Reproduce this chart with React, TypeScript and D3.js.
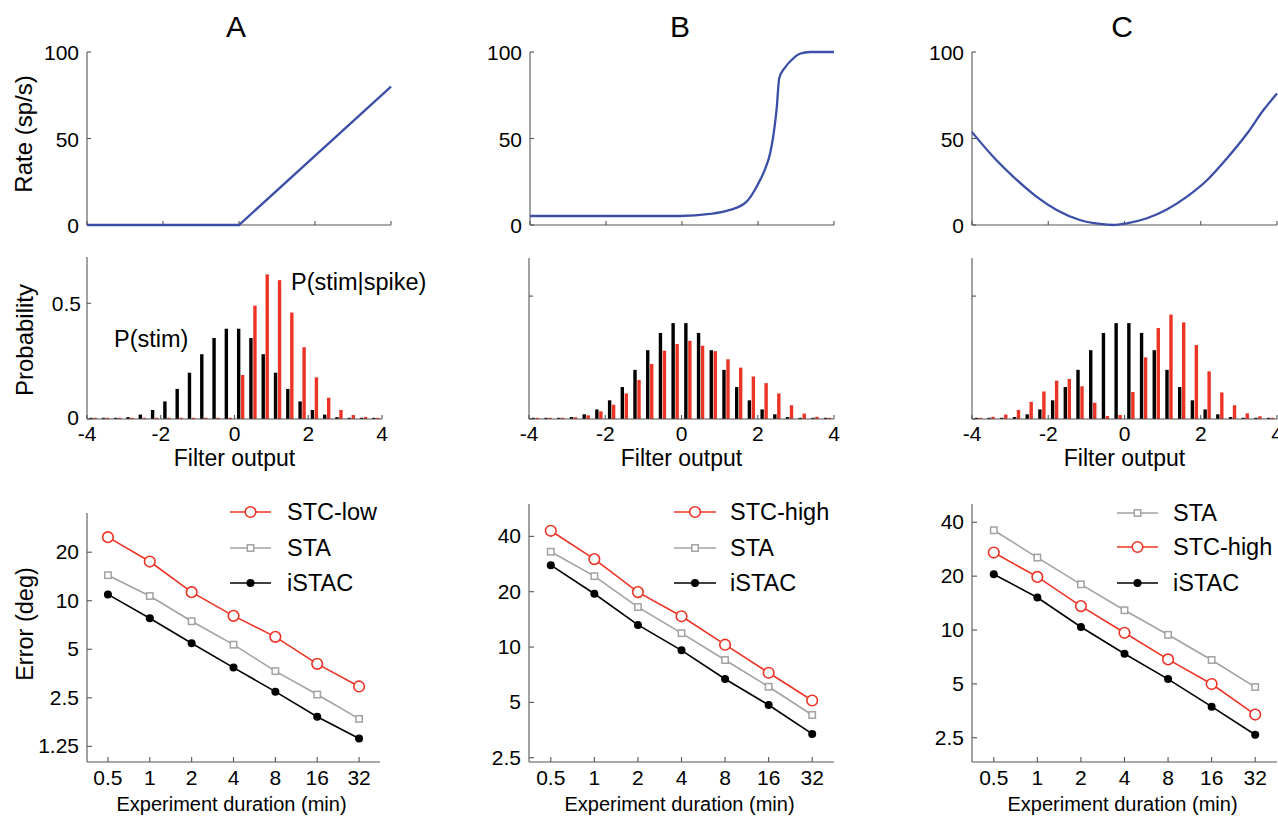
import React from "react";
import * as d3 from "d3";

// ---------- DATA ----------
const panelTitles = ["A", "B", "C"];
const rateTicks = [0, 50, 100];
const filterTicks = [-4, -2, 0, 2, 4];

const rateAX = [-4, 0, 4];
const rateAY = [0, 0, 80];
const rateBX = [-4, -0.05, 0.74, 1.26, 1.7, 1.96, 2.18, 2.32, 2.4, 2.49, 2.56, 2.71, 2.89, 3.1, 3.37, 4];
const rateBY = [5.2, 5.2, 6.4, 8.7, 13.5, 22, 32, 41.5, 51, 67, 85, 91, 95.5, 99, 100, 100];
const rateCX = [-4, -3.45, -2.92, -2.31, -1.78, -1.17, -0.64, -0.29, 0.06, 0.59, 1.11, 1.64, 2.17, 2.69, 3.22, 3.65, 4];
const rateCY = [53.7, 39.6, 28, 16.4, 8.7, 2.9, 0.6, 0, 1, 3.9, 9, 16.4, 26, 38.6, 53, 66.6, 76];

const binCenters = [-3.833, -3.5, -3.167, -2.833, -2.5, -2.167, -1.833, -1.5, -1.167, -0.833, -0.5, -0.167,
  0.167, 0.5, 0.833, 1.167, 1.5, 1.833, 2.167, 2.5, 2.833, 3.167, 3.5, 3.833];
const pStim = [0, 0.001, 0.003, 0.008, 0.019, 0.039, 0.076, 0.13, 0.2, 0.28, 0.35, 0.39,
  0.39, 0.35, 0.28, 0.2, 0.13, 0.076, 0.039, 0.019, 0.008, 0.003, 0.001, 0];
const pSpikeA = [0, 0, 0, 0, 0, 0, 0, 0, 0, 0, 0, 0,
  0.19, 0.49, 0.625, 0.6, 0.46, 0.31, 0.18, 0.092, 0.039, 0.017, 0.009, 0.003];
const pSpikeB = [0.003, 0.003, 0.003, 0.007, 0.015, 0.031, 0.058, 0.104, 0.159, 0.224, 0.278, 0.305,
  0.318, 0.298, 0.276, 0.243, 0.209, 0.173, 0.146, 0.104, 0.056, 0.022, 0.009, 0.004];
const pSpikeC = [0.004, 0.009, 0.018, 0.037, 0.07, 0.112, 0.156, 0.163, 0.133, 0.066, 0.012, 0.016,
  0.11, 0.251, 0.37, 0.425, 0.393, 0.301, 0.194, 0.108, 0.056, 0.023, 0.011, 0.005];

const durations = [0.5, 1, 2, 4, 8, 16, 32];
const durationLabels = ["0.5", "1", "2", "4", "8", "16", "32"];
const errTicksA = [1.25, 2.5, 5, 10, 20];
const errTicksBC = [2.5, 5, 10, 20, 40];

const errA_stcLow = [24.8, 17.5, 11.3, 8.06, 5.97, 4.06, 2.94];
const errA_sta = [14.4, 10.7, 7.46, 5.34, 3.66, 2.62, 1.85];
const errA_istac = [10.95, 7.78, 5.45, 3.85, 2.73, 1.91, 1.4];
const errB_stcHigh = [42.9, 30.1, 19.9, 14.7, 10.3, 7.25, 5.12];
const errB_sta = [33, 24.3, 16.5, 11.9, 8.5, 6.08, 4.27];
const errB_istac = [27.9, 19.5, 13.2, 9.6, 6.7, 4.84, 3.37];
const errC_sta = [36.1, 25.4, 18.0, 12.9, 9.4, 6.8, 4.8];
const errC_stcHigh = [27.1, 19.8, 13.6, 9.65, 6.85, 4.99, 3.37];
const errC_istac = [20.5, 15.2, 10.4, 7.37, 5.32, 3.73, 2.6];

// ---------- STYLE ----------
const FONT = "'Liberation Sans', Arial, Helvetica, sans-serif";
const RED = "#ec3426";
const GRAY = "#a2a2a2";
const BLUE = "#3b4fa8";
const AXIS = "#555";

type Kind = "circle" | "square" | "dot";
const kindColor: Record<Kind, string> = { circle: RED, square: GRAY, dot: "#000" };

function Marker({ kind, x, y }: { kind: Kind; x: number; y: number }) {
  if (kind === "circle")
    return <circle cx={x} cy={y} r={5.3} fill="white" stroke={RED} strokeWidth={1.6} />;
  if (kind === "square")
    return <rect x={x - 3.2} y={y - 3.2} width={6.4} height={6.4} fill="white" stroke={GRAY} strokeWidth={1.5} />;
  return <circle cx={x} cy={y} r={4} fill="#000" />;
}

const cols = [
  {
    title: panelTitles[0], titleX: 236,
    top: { x0: 87, x1: 391, xs: rateAX, ys: rateAY, showYLabel: true },
    hist: { x0: 87, x1: 382, yTop: 257, yMax: 0.70, red: pSpikeA, labels: true },
    bot: {
      x0: 87, x1: 380, yTop: 513, dom: [1, 35], ticks: errTicksA,
      series: [
        { name: "STC-low", vals: errA_stcLow, kind: "circle" as Kind },
        { name: "STA", vals: errA_sta, kind: "square" as Kind },
        { name: "iSTAC", vals: errA_istac, kind: "dot" as Kind },
      ],
      leg: { x0: 230, x1: 271, tx: 287, ys: [512, 548, 583] },
    },
  },
  {
    title: panelTitles[1], titleX: 680,
    top: { x0: 530, x1: 834, xs: rateBX, ys: rateBY, showYLabel: false },
    hist: { x0: 529, x1: 834, yTop: 258, yMax: 0.655, red: pSpikeB, labels: false },
    bot: {
      x0: 529, x1: 834, yTop: 504, dom: [2.37, 60], ticks: errTicksBC,
      series: [
        { name: "STC-high", vals: errB_stcHigh, kind: "circle" as Kind },
        { name: "STA", vals: errB_sta, kind: "square" as Kind },
        { name: "iSTAC", vals: errB_istac, kind: "dot" as Kind },
      ],
      leg: { x0: 674, x1: 716, tx: 730, ys: [512, 548, 583] },
    },
  },
  {
    title: panelTitles[2], titleX: 1122,
    top: { x0: 972, x1: 1277, xs: rateCX, ys: rateCY, showYLabel: false },
    hist: { x0: 972, x1: 1277, yTop: 258, yMax: 0.655, red: pSpikeC, labels: false },
    bot: {
      x0: 972, x1: 1277, yTop: 504, dom: [1.83, 50.6], ticks: errTicksBC,
      series: [
        { name: "STA", vals: errC_sta, kind: "square" as Kind },
        { name: "STC-high", vals: errC_stcHigh, kind: "circle" as Kind },
        { name: "iSTAC", vals: errC_istac, kind: "dot" as Kind },
      ],
      leg: { x0: 1117, x1: 1158, tx: 1173, ys: [513, 547, 583] },
    },
  },
];

function Column({ c, idx }: { c: (typeof cols)[number]; idx: number }) {
  // ---- Top: rate curve ----
  const tx = d3.scaleLinear().domain([-4, 4]).range([c.top.x0, c.top.x1]);
  const ty = d3.scaleLinear().domain([0, 100]).range([225, 52]);
  const ratePts = c.top.xs.map((x, i) => [x, c.top.ys[i]] as [number, number]);
  const rateLine = d3
    .line<[number, number]>()
    .x((d) => tx(d[0]))
    .y((d) => ty(d[1]))
    .curve(idx === 0 ? d3.curveLinear : d3.curveMonotoneX)(ratePts) as string;

  // ---- Hist ----
  const hx = d3.scaleLinear().domain([-4, 4]).range([c.hist.x0, c.hist.x1]);
  const hy = d3.scaleLinear().domain([0, c.hist.yMax]).range([419, c.hist.yTop]);
  const barW = 3.4;
  const off = 2;

  // ---- Bottom ----
  const bx = d3.scaleLog().base(2).domain([0.5 / Math.SQRT2, 32 * Math.SQRT2]).range([c.bot.x0, c.bot.x1]);
  const by = d3.scaleLog().domain(c.bot.dom).range([762, c.bot.yTop]);
  const errLine = d3
    .line<number>()
    .x((_, i) => bx(durations[i]))
    .y((d) => by(d));

  return (
    <g>
      <text x={c.titleX} y={37} fontSize={30} textAnchor="middle">{c.title}</text>

      {/* Top axes */}
      <g stroke={AXIS} strokeWidth={1.1} fill="none">
        <line x1={c.top.x0} y1={ty(100)} x2={c.top.x0} y2={ty(0)} />
        <line x1={c.top.x0} y1={ty(0)} x2={c.top.x1} y2={ty(0)} />
        {filterTicks.map((t) => (
          <line key={t} x1={tx(t)} x2={tx(t)} y1={ty(0)} y2={ty(0) - 4} />
        ))}
        {rateTicks.map((t) => (
          <line key={t} x1={c.top.x0} x2={c.top.x0 + 4} y1={ty(t)} y2={ty(t)} />
        ))}
      </g>
      {rateTicks.map((t) => (
        <text key={t} x={c.top.x0 - 8} y={ty(t) + 8} fontSize={21} textAnchor="end">{String(t)}</text>
      ))}
      <path d={rateLine} fill="none" stroke={BLUE} strokeWidth={2.3} />
      {c.top.showYLabel && (
        <text transform={`translate(32,134) rotate(-90)`} fontSize={24} textAnchor="middle">Rate (sp/s)</text>
      )}

      {/* Histogram */}
      {binCenters.map((b, i) => {
        const h0 = Math.max(hy(0) - hy(pStim[i]), 1.2);
        const h1 = Math.max(hy(0) - hy(c.hist.red[i]), 1.2);
        return (
          <g key={i}>
            <rect x={hx(b) - off - barW / 2} y={hy(0) - h0} width={barW} height={h0} fill="#000" />
            <rect x={hx(b) + off - barW / 2} y={hy(0) - h1} width={barW} height={h1} fill={RED} />
          </g>
        );
      })}
      <g stroke={AXIS} strokeWidth={1.1} fill="none">
        <line x1={c.hist.x0} y1={c.hist.yTop} x2={c.hist.x0} y2={hy(0)} />
        <line x1={c.hist.x0} y1={hy(0)} x2={c.hist.x1} y2={hy(0)} />
        {filterTicks.map((t) => (
          <line key={t} x1={hx(t)} x2={hx(t)} y1={hy(0)} y2={hy(0) - 4} />
        ))}
        {[0, 0.5].map((t) => (
          <line key={t} x1={c.hist.x0} x2={c.hist.x0 + 4} y1={hy(t)} y2={hy(t)} />
        ))}
      </g>
      {c.hist.labels && (
        <g fontSize={21} textAnchor="end">
          <text x={c.hist.x0 - 6} y={hy(0.5) + 8}>0.5</text>
          <text x={c.hist.x0 - 8} y={hy(0) + 6}>0</text>
        </g>
      )}
      {filterTicks.map((t) => (
        <text key={t} x={hx(t)} y={441} fontSize={21} textAnchor="middle">{t}</text>
      ))}
      <text x={(c.hist.x0 + c.hist.x1) / 2} y={466} fontSize={23} textAnchor="middle">Filter output</text>
      {c.hist.labels && (
        <>
          <text transform={`translate(33,340) rotate(-90)`} fontSize={24} textAnchor="middle">Probability</text>
          <text x={114} y={347} fontSize={23.5}>P(stim)</text>
          <text x={291} y={290} fontSize={23.5}>P(stim|spike)</text>
        </>
      )}

      {/* Bottom error plot */}
      <g stroke={AXIS} strokeWidth={1.1} fill="none">
        <line x1={c.bot.x0} y1={c.bot.yTop} x2={c.bot.x0} y2={762} />
        <line x1={c.bot.x0} y1={762} x2={c.bot.x1} y2={762} />
        {durations.map((d) => (
          <line key={d} x1={bx(d)} x2={bx(d)} y1={762} y2={757} />
        ))}
        {c.bot.ticks.map((t) => (
          <line key={t} x1={c.bot.x0} x2={c.bot.x0 + 5} y1={by(t)} y2={by(t)} />
        ))}
      </g>
      {c.bot.ticks.map((t) => (
        <text key={t} x={c.bot.x0 - 8} y={by(t) + 7} fontSize={21} textAnchor="end">{String(t)}</text>
      ))}
      {durations.map((d, i) => (
        <text key={d} x={bx(d)} y={785} fontSize={21} textAnchor="middle">{durationLabels[i]}</text>
      ))}
      <text x={(c.bot.x0 + c.bot.x1) / 2 - 2} y={811} fontSize={20} textAnchor="middle">Experiment duration (min)</text>
      {idx === 0 && (
        <text transform={`translate(33,624) rotate(-90)`} fontSize={23.5} textAnchor="middle">Error (deg)</text>
      )}
      {c.bot.series.map((s) => (
        <g key={s.name}>
          <path d={errLine(s.vals) as string} fill="none" stroke={kindColor[s.kind]} strokeWidth={1.6} />
          {s.vals.map((v, i) => (
            <Marker key={i} kind={s.kind} x={bx(durations[i])} y={by(v)} />
          ))}
        </g>
      ))}
      {c.bot.series.map((s, i) => {
        const y = c.bot.leg.ys[i];
        return (
          <g key={"leg" + s.name}>
            <line x1={c.bot.leg.x0} x2={c.bot.leg.x1} y1={y} y2={y} stroke={kindColor[s.kind]} strokeWidth={1.6} />
            <Marker kind={s.kind} x={(c.bot.leg.x0 + c.bot.leg.x1) / 2} y={y} />
            <text x={c.bot.leg.tx} y={y + 8} fontSize={23.5}>{s.name}</text>
          </g>
        );
      })}
    </g>
  );
}

export default function App() {
  return (
    <svg
      width={1278}
      height={816}
      style={{ position: "absolute", left: 0, top: 0, background: "white" }}
      fontFamily={FONT}
      fill="#000"
    >
      <rect x={0} y={0} width={1278} height={816} fill="white" />
      {cols.map((c, i) => (
        <Column key={i} c={c} idx={i} />
      ))}
    </svg>
  );
}
